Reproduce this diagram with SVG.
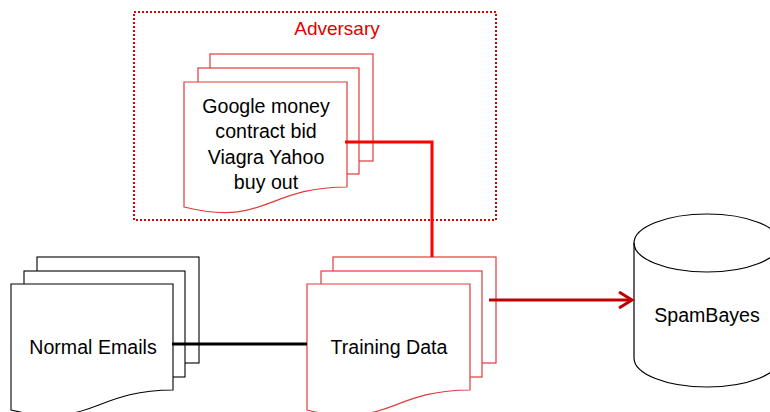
<svg xmlns="http://www.w3.org/2000/svg" width="770" height="412" viewBox="0 0 770 412">
<style>
.pr{fill:#fff;stroke:#E03A3A;stroke-width:1.2}
.pk{fill:#fff;stroke:#000;stroke-width:1.1}
.t{font-family:"Liberation Sans",Arial,sans-serif;font-size:19.6px;fill:#000;text-anchor:middle}
</style>
<rect width="770" height="412" fill="#fff"/>
<g id="adversary">
<rect x="134" y="12" width="362" height="208" fill="none" stroke="#E00000" stroke-width="2" stroke-dasharray="2,2"/>
<text x="337" y="35" class="t" style="fill:#E00000;font-size:19px">Adversary</text>
</g>
<g id="spam-docs">
<rect class="pr" x="210" y="54" width="163" height="107"/>
<rect class="pr" x="198" y="68" width="161" height="106"/>
<path class="pr" d="M184,82 H347 V187 C266,187 266,227 184,207 Z"/>
<text class="t"><tspan x="266" y="113">Google money</tspan><tspan x="266" y="138">contract bid</tspan><tspan x="266" y="164">Viagra Yahoo</tspan><tspan x="266" y="189">buy out</tspan></text>
</g>
<g id="normal-emails">
<rect class="pk" x="37" y="257" width="162" height="106"/>
<rect class="pk" x="24" y="271" width="161" height="106"/>
<path class="pk" d="M11,284 H173 V390 C92,390 92,430 11,410 Z"/>
<text x="93" y="354" class="t">Normal Emails</text>
</g>
<g id="training-data">
<rect class="pr" x="333" y="257" width="163" height="106"/>
<rect class="pr" x="321" y="271" width="161" height="106"/>
<path class="pr" d="M307,284 H470 V390 C389,390 389,430 307,410 Z"/>
<text x="389" y="354" class="t">Training Data</text>
</g>
<g id="spambayes">
<path d="M634,243 A73,29 0 0 1 780,243 V358 A73,29 0 0 1 634,358 Z" fill="#fff" stroke="#000" stroke-width="1.2"/>
<path d="M634,243 A73,29 0 0 0 780,243" fill="none" stroke="#000" stroke-width="1.2"/>
<text x="707" y="322" class="t">SpamBayes</text>
</g>
<g id="connectors" fill="none" stroke-width="3">
<path d="M345,142 H432 V257" stroke="#FF0000"/>
<path d="M172,344 H307" stroke="#000"/>
<path d="M489,300 H631" stroke="#C00000"/>
<path d="M619,292 L632,300 L619,308" stroke="#C00000" stroke-linejoin="miter"/>
</g>
</svg>
